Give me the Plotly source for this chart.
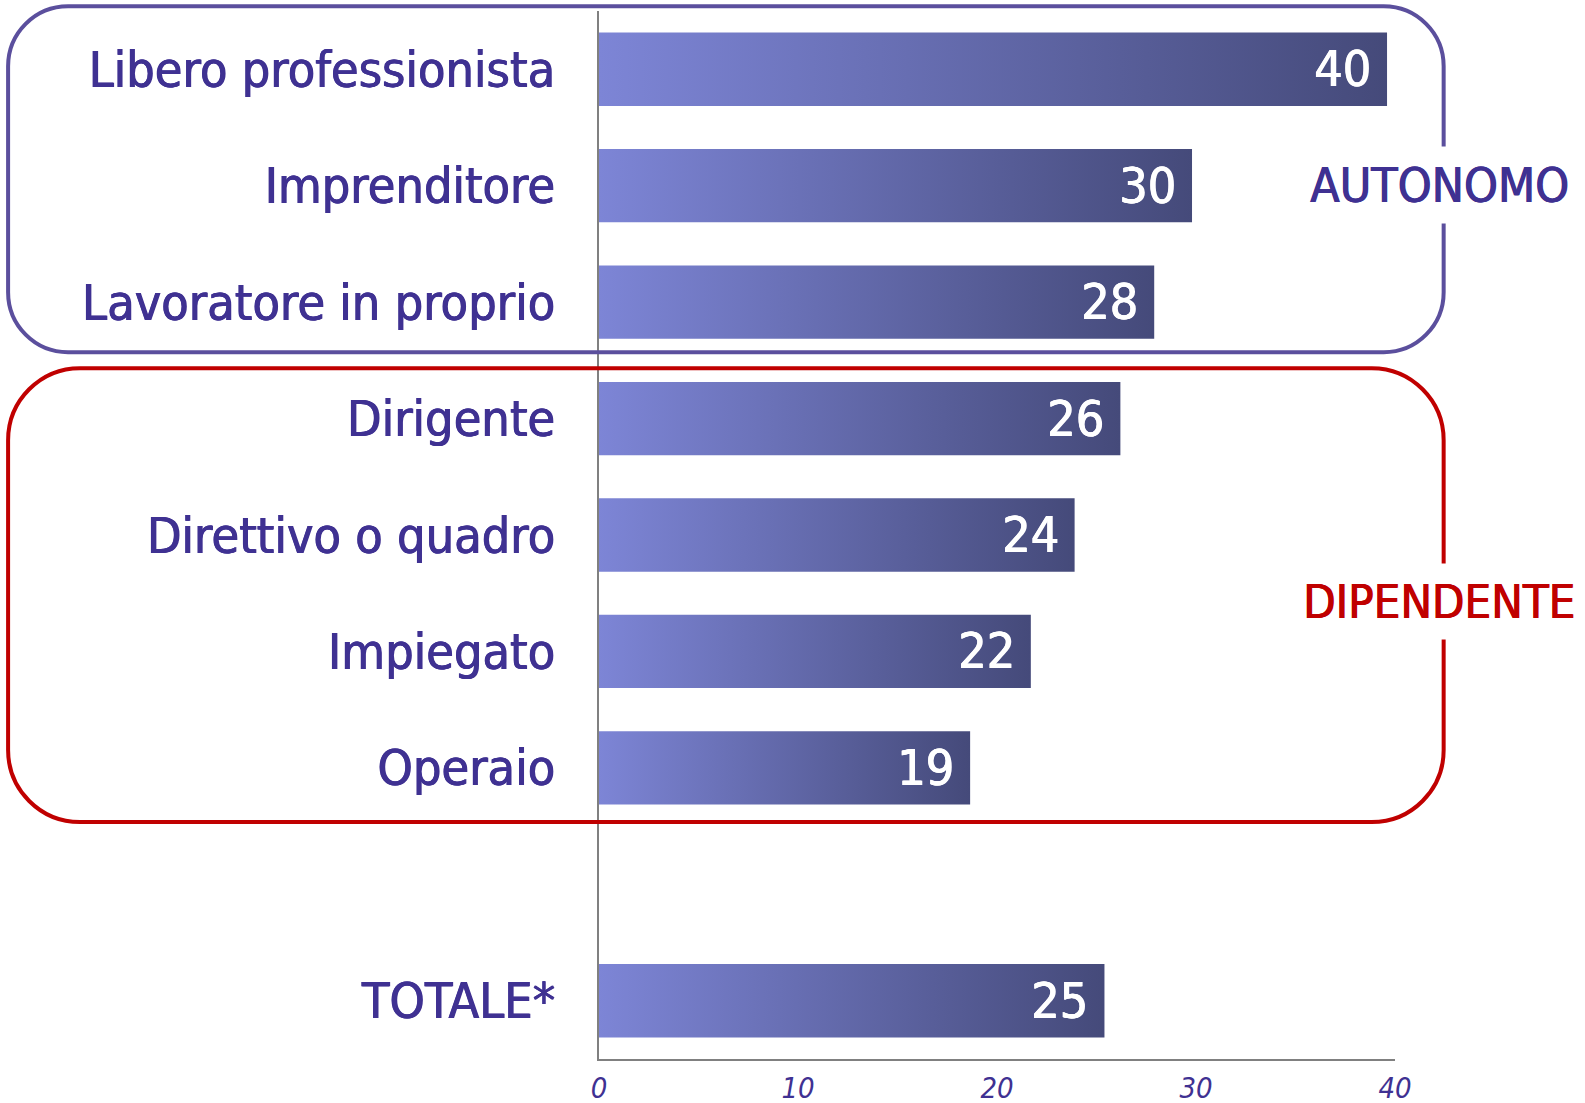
import plotly.graph_objects as go

# ---------------- data ----------------
categories = ["Libero professionista", "Imprenditore", "Lavoratore in proprio",
              "Dirigente", "Direttivo o quadro", "Impiegato", "Operaio", "TOTALE*"]
values = [39.6, 29.8, 27.9, 26.2, 23.9, 21.7, 18.65, 25.4]
value_labels = ["40", "30", "28", "26", "24", "22", "19", "25"]
positions = [0, 1, 2, 3, 4, 5, 6, 8]
x_ticks = [0, 10, 20, 30, 40]
group_labels = ["AUTONOMO", "DIPENDENTE"]

# ---------------- styling / layout ----------------
W, H = 1585, 1103
L, R, T, B = 598.5, 1395.3, 10.75, 1059.0
PW, PH = R - L, B - T
BAR_HALF = 0.315
FONT = "DejaVu Sans Condensed, Roboto, sans-serif"
TXT = "#3f3192"
BOX_PURPLE = "#5b4f9d"
BOX_RED = "#c00000"
GRAD = [[0, "#7d85d6"], [1, "#454a7a"]]


def heavy(color):
    return f"0.7px 0 0 {color}, -0.3px 0 0 {color}"


def px2paper(x, y):
    return (x - L) / PW, 1 - (y - T) / PH


def rounded_path(x0, y0, x1, y1, r):
    k = 0.5523 * r

    def P(x, y):
        a, b = px2paper(x, y)
        return f"{a:.5f},{b:.5f}"

    d = f"M {P(x0 + r, y0)} L {P(x1 - r, y0)} "
    d += f"C {P(x1 - r + k, y0)} {P(x1, y0 + r - k)} {P(x1, y0 + r)} "
    d += f"L {P(x1, y1 - r)} "
    d += f"C {P(x1, y1 - r + k)} {P(x1 - r + k, y1)} {P(x1 - r, y1)} "
    d += f"L {P(x0 + r, y1)} "
    d += f"C {P(x0 + r - k, y1)} {P(x0, y1 - r + k)} {P(x0, y1 - r)} "
    d += f"L {P(x0, y0 + r)} "
    d += f"C {P(x0, y0 + r - k)} {P(x0 + r - k, y0)} {P(x0 + r, y0)} Z"
    return d


fig = go.Figure()

for cat, v, p in zip(categories, values, positions):
    fig.add_trace(go.Scatter(
        x=[0, v, v, 0, 0],
        y=[p - BAR_HALF, p - BAR_HALF, p + BAR_HALF, p + BAR_HALF, p - BAR_HALF],
        mode="lines", line=dict(width=0, color="rgba(0,0,0,0)"),
        fill="toself",
        fillgradient=dict(type="horizontal", colorscale=GRAD),
        name=cat, hoverinfo="skip", showlegend=False,
    ))

annotations = []
for v, p, lab in zip(values, positions, value_labels):
    annotations.append(dict(
        x=v, y=p, xref="x", yref="y", text=lab, showarrow=False,
        xanchor="right", yanchor="middle", xshift=-14,
        font=dict(family=FONT, size=50, color="white", shadow=heavy("white")),
    ))

# group labels
gx, gy = px2paper(1439.5, 184.5)
annotations.append(dict(x=gx, y=gy, xref="paper", yref="paper", text=group_labels[0],
                        showarrow=False, xanchor="center", yanchor="middle",
                        bgcolor="white", borderpad=10,
                        font=dict(family=FONT, size=48, color=TXT, shadow=heavy(TXT))))
gx, gy = px2paper(1439.5, 601)
annotations.append(dict(x=gx, y=gy, xref="paper", yref="paper", text=group_labels[1],
                        showarrow=False, xanchor="center", yanchor="middle",
                        bgcolor="white", borderpad=10,
                        font=dict(family=FONT, size=47, color=BOX_RED, shadow=heavy(BOX_RED))))

shapes = [
    dict(type="path", xref="paper", yref="paper",
         path=rounded_path(7, 6, 1444, 352, 60),
         line=dict(color=BOX_PURPLE, width=4), layer="above"),
    dict(type="path", xref="paper", yref="paper",
         path=rounded_path(7, 368, 1444, 822, 72),
         line=dict(color=BOX_RED, width=4), layer="above"),
]

fig.update_layout(
    width=W, height=H,
    margin=dict(l=L, r=W - R, t=T, b=H - B, pad=0, autoexpand=False),
    paper_bgcolor="white", plot_bgcolor="white",
    showlegend=False,
    annotations=annotations, shapes=shapes,
    xaxis=dict(range=[0, 40], tickvals=x_ticks, ticktext=[str(t) for t in x_ticks],
               showgrid=False, zeroline=False, showline=True, linecolor="#808080",
               linewidth=2, ticks="", ticklabelstandoff=2, automargin=False,
               tickfont=dict(family="Liberation Sans Narrow, DejaVu Sans Condensed, sans-serif",
                             size=29, color=TXT, style="italic")),
    yaxis=dict(range=[8.5, -0.5], tickvals=positions, ticktext=categories,
               showgrid=False, zeroline=False, showline=True, linecolor="#808080",
               linewidth=2, ticks="", ticklabelstandoff=32, automargin=False,
               tickfont=dict(family=FONT, size=50, color=TXT, shadow=heavy(TXT))),
)

fig.write_html("out.html",
               config={"displayModeBar": False},
               post_script="document.body.style.margin='0';document.body.style.overflow='hidden';")
